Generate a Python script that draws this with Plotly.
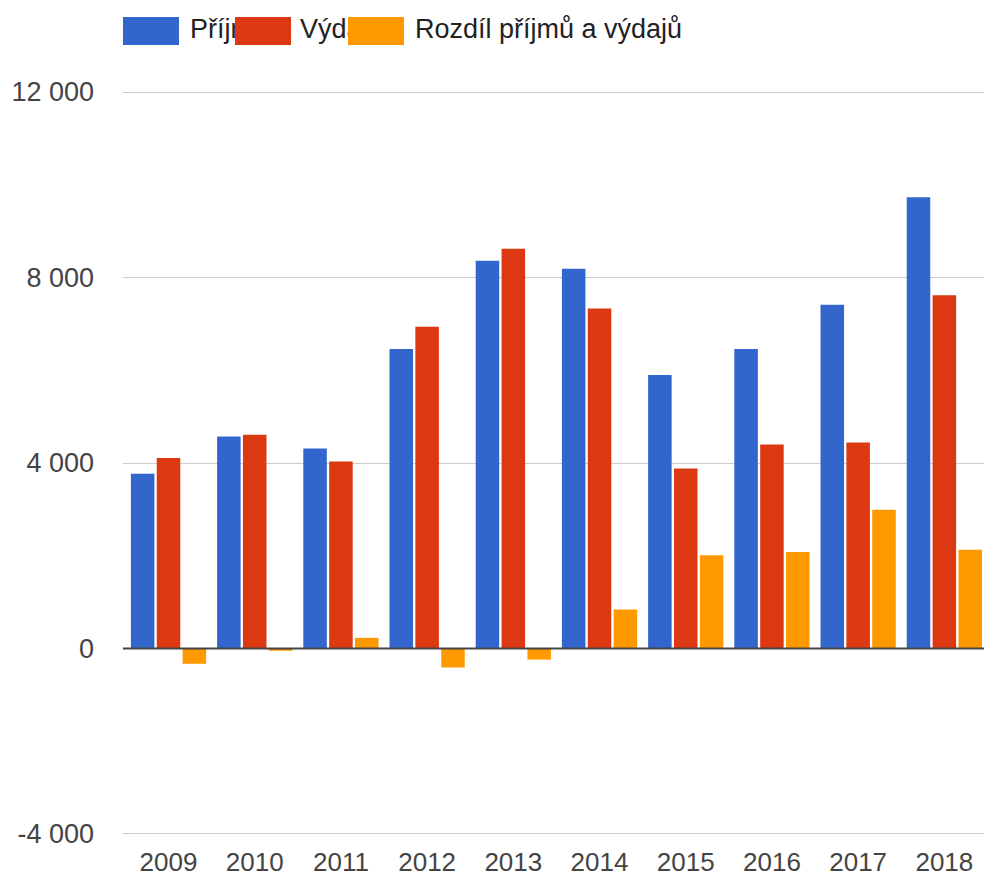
import plotly.graph_objects as go

years = ["2009", "2010", "2011", "2012", "2013", "2014", "2015", "2016", "2017", "2018"]
prijmy = [3770, 4570, 4310, 6460, 8360, 8190, 5900, 6460, 7410, 9730]
vydaje = [4110, 4610, 4030, 6940, 8620, 7330, 3880, 4400, 4440, 7620]
rozdil = [-330, -50, 230, -410, -240, 840, 2010, 2080, 2990, 2130]

series_names = ["Příjmy", "Výdaje", "Rozdíl příjmů a výdajů"]
colors = ["#3366CC", "#DC3912", "#FF9900"]
y_ticks = [-4000, 0, 4000, 8000, 12000]
y_tick_labels = ["-4 000", "0", "4 000", "8 000", "12 000"]

FONT = "Arial, Liberation Sans, sans-serif"
FS = 27

fig = go.Figure()
for name, vals, col in zip(series_names, [prijmy, vydaje, rozdil], colors):
    fig.add_trace(go.Bar(x=years, y=vals, name=name, marker=dict(color=col, line=dict(width=0)),
                         showlegend=False))

W, H = 984, 876
ml, mr, mt, mb = 123, 0, 91, 41
pw = W - ml - mr
ph = H - mt - mb

def px_x(px):
    return (px - ml) / pw

def px_y(py):
    return 1 + (mt - py) / ph

box_cy, text_cy = 31, 29
box_w, box_h = 56, 28
box_x = [123, 235, 348]
text_x = [189, 299, 414]
text_anns = []
box_anns = []
for i, (name, col) in enumerate(zip(series_names, colors)):
    text_anns.append(dict(text=name, x=px_x(text_x[i]), y=px_y(text_cy), xref="paper", yref="paper",
                          xanchor="left", yanchor="middle", showarrow=False, borderpad=0,
                          font=dict(family=FONT, size=FS, color="#222222")))
    box_anns.append(dict(text=" ", x=px_x(box_x[i]), y=px_y(box_cy), xref="paper", yref="paper",
                         xanchor="left", yanchor="middle", showarrow=False, bgcolor=col,
                         width=box_w, height=box_h, borderpad=0, borderwidth=0))

fig.update_layout(
    width=W, height=H,
    margin=dict(l=ml, r=mr, t=mt, b=mb, pad=0),
    paper_bgcolor="white", plot_bgcolor="white",
    barmode="group", bargap=0.1, bargroupgap=0.09,
    font=dict(family=FONT, size=FS, color="#444444"),
    annotations=text_anns + box_anns,
    showlegend=False,
    xaxis=dict(type="category", range=[-0.528, 9.46], showgrid=False, zeroline=False, showline=False,
               ticks="", ticklabelstandoff=9, automargin=False,
               tickfont=dict(size=26, color="#444444")),
    yaxis=dict(range=[-4022, 12022], tickvals=y_ticks, ticktext=y_tick_labels, showgrid=True,
               gridcolor="#CCCCCC", gridwidth=1, zeroline=False, showline=False, ticks="",
               ticklabelstandoff=28, automargin=False, tickfont=dict(size=FS, color="#444444")),
    shapes=[dict(type="line", xref="paper", yref="y", x0=0, x1=1, y0=0, y1=0,
                 line=dict(color="#444444", width=2), layer="above")],
)

fig.write_html("out.html", config={"displayModeBar": False},
               post_script="document.body.style.margin='0px';document.body.style.overflow='hidden';")
